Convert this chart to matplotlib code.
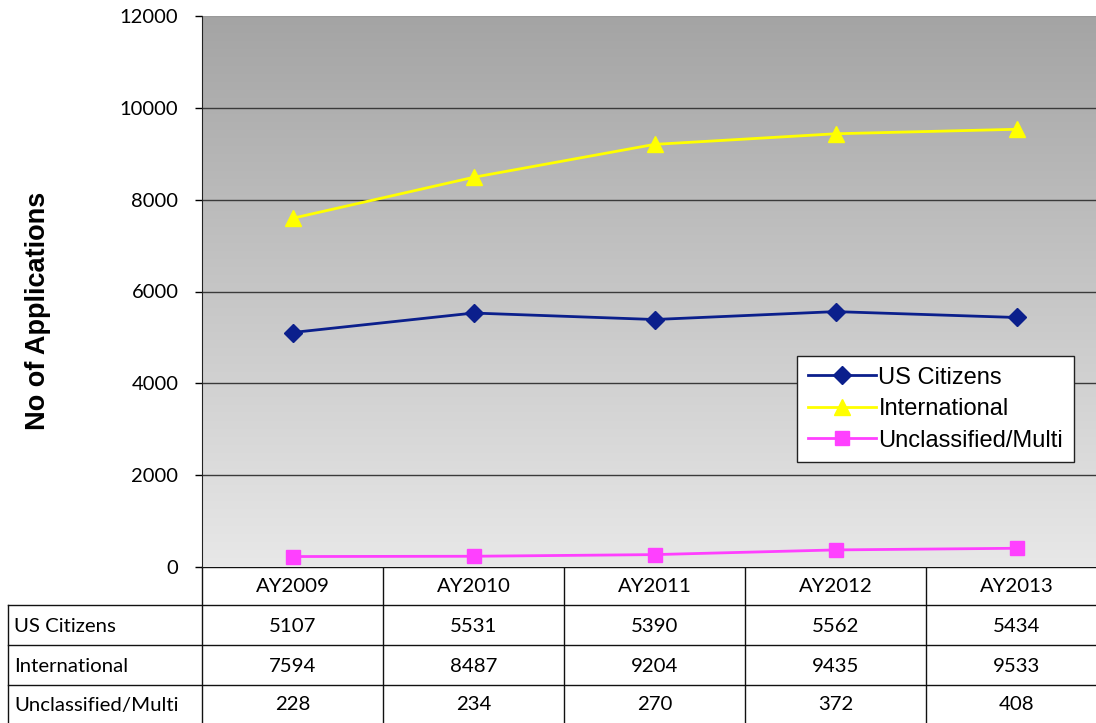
import numpy as np
import matplotlib
matplotlib.use("Agg")
import matplotlib.pyplot as plt

years = ["AY2009", "AY2010", "AY2011", "AY2012", "AY2013"]
us_citizens = [5107, 5531, 5390, 5562, 5434]
international = [7594, 8487, 9204, 9435, 9533]
unclassified = [228, 234, 270, 372, 408]
series_names = ["US Citizens", "International", "Unclassified/Multi"]

W, H = 1096, 723
fig = plt.figure(figsize=(W / 100, H / 100), dpi=100)

def fx(px):
    return px / W

def fy(py):
    return 1 - py / H

# plot area (the right edge runs slightly past the image)
left, right, top, bottom = 202, 1107, 16, 567
ax = fig.add_axes([fx(left), fy(bottom), fx(right - left), fy(top) - fy(bottom)])
ax.set_xlim(-0.5, len(years) - 0.5)
ax.set_ylim(0, 12000)

# grey gradient background
grad = np.linspace(0, 1, 256).reshape(-1, 1)
ax.imshow(grad, extent=(-0.5, len(years) - 0.5, 0, 12000), aspect="auto",
          cmap=matplotlib.colors.LinearSegmentedColormap.from_list("g", ["#e8e8e8", "#a4a4a4"]),
          origin="lower", zorder=0)

for yv in range(2000, 12001, 2000):
    ax.axhline(yv, color="#3a3a3a" if yv < 12000 else "#9a9a9a", lw=1, zorder=1)

x = np.arange(len(years))
ax.plot(x, us_citizens, color="#0b1f8c", lw=2, marker="D", ms=9, zorder=3, label=series_names[0])
ax.plot(x, international, color="#ffff00", lw=2, marker="^", ms=11, zorder=3, label=series_names[1])
ax.plot(x, unclassified, color="#ff40ff", lw=2, marker="s", ms=10, zorder=3, label=series_names[2])

ax.set_xticks([])
ax.set_yticks(range(0, 12001, 2000))
ax.tick_params(axis="y", direction="out", length=5, width=1, pad=12, labelsize=14.5)
for lbl in ax.get_yticklabels():
    lbl.set_fontfamily("Lato")
for s in ["top", "right", "bottom"]:
    ax.spines[s].set_visible(False)
ax.spines["left"].set_color("#222222")

fig.text(fx(38), fy(311), "No of Applications", rotation=90, ha="center", va="center",
         fontsize=19.5, fontweight="bold", family="Liberation Sans")

leg = ax.legend(loc="upper left", bbox_to_anchor=((797 - left) / (right - left), (bottom - 356) / (bottom - top)),
                frameon=True, fancybox=False, edgecolor="#222222", framealpha=1,
                prop={"family": "Liberation Sans", "size": 17}, handlelength=2.9,
                borderpad=0.45, labelspacing=0.4, handletextpad=0.1, borderaxespad=0)
leg.get_frame().set_linewidth(1)

# data table below the chart
col_w = (right - left) / len(years)
row_y = [567, 605, 645, 685, 723]
tab = fig.add_axes([0, 0, 1, 1], zorder=-1)
tab.set_xlim(0, W)
tab.set_ylim(H, 0)
tab.axis("off")
lk = dict(color="#111111", lw=1)
for r in row_y[1:-1]:
    tab.plot([8, W], [r, r], **lk)
tab.plot([8, 8], [row_y[1], H], **lk)
for i in range(len(years) + 1):
    xc = left + i * col_w
    tab.plot([xc, xc], [row_y[0], H], **lk)
tab.plot([left, W], [row_y[0], row_y[0]], **lk)

tfont = dict(family="Lato", fontsize=14.7, va="center")
for i, yr in enumerate(years):
    tab.text(left + (i + 0.5) * col_w, (row_y[0] + row_y[1]) / 2 + 1, yr, ha="center", **tfont)
for r, (name, vals) in enumerate(zip(series_names, [us_citizens, international, unclassified])):
    yc = (row_y[r + 1] + row_y[r + 2]) / 2 + 1
    tab.text(14, yc, name, ha="left", **tfont)
    for i, v in enumerate(vals):
        tab.text(left + (i + 0.5) * col_w, yc, str(v), ha="center", **tfont)

fig.savefig("out.png", dpi=100)
